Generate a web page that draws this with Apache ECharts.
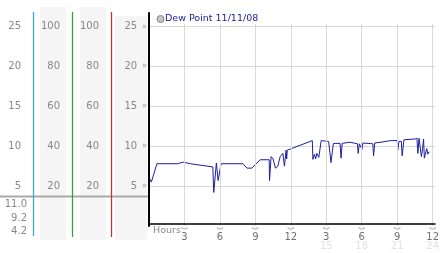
<!DOCTYPE html>
<html>
<head>
<meta charset="utf-8">
<script src="https://cdn.jsdelivr.net/npm/echarts@6/dist/echarts.min.js"></script>
<style>
html,body{margin:0;padding:0;background:#fff;}
#chart{width:442px;height:253px;}
</style>
</head>
<body>
<div id="chart"></div>
<script>
// ---- data ----
const seriesName = 'Dew Point 11/11/08';
const hours = [0, 0.2, 0.67, 2.4, 2.9, 3.5, 5.4, 5.48, 5.56, 5.7, 5.85, 6.1, 7.95, 8.3, 8.7, 9.4, 10.17, 10.2, 10.33, 10.5, 10.7, 10.9, 11.1, 11.33, 11.46, 11.6, 11.65, 11.7, 13.82, 13.87, 14.0, 14.1, 14.2, 14.37, 14.57, 15.2, 15.4, 15.6, 16.17, 16.25, 16.35, 17.0, 17.64, 17.7, 17.8, 18.02, 18.1, 18.94, 19.0, 19.1, 19.63, 20.46, 21.0, 21.05, 21.15, 21.35, 21.42, 21.57, 22.5, 22.67, 22.75, 22.85, 22.96, 23.05, 23.15, 23.23, 23.3, 23.5, 23.6, 23.7];
const dewPoint = [6.1, 5.5, 7.8, 7.8, 8.0, 7.8, 7.4, 4.2, 4.2, 7.9, 5.7, 7.8, 7.8, 7.25, 7.25, 8.3, 8.3, 5.7, 8.7, 8.4, 7.25, 7.5, 8.7, 9.1, 7.5, 9.5, 8.4, 9.5, 10.7, 8.35, 9.0, 8.4, 9.1, 8.6, 10.7, 10.6, 7.95, 10.35, 10.35, 8.5, 10.35, 10.5, 10.3, 9.1, 10.3, 9.6, 10.4, 10.3, 8.8, 10.4, 10.5, 10.7, 10.7, 9.5, 10.6, 10.6, 8.8, 10.8, 10.9, 11.0, 9.1, 11.0, 11.0, 8.7, 9.7, 10.9, 8.5, 9.7, 9.0, 9.3];
const statLabels = ['11.0', '9.2', '4.2'];
const hourTicks = [3, 6, 9, 12, 15, 18, 21, 24];
const xAxisTitle = 'Hours';

const chart = echarts.init(document.getElementById('chart'), null, {renderer: 'canvas'});
const labelColor = '#888';
const FONT = 'DejaVu Sans';

function leftAxis(offset, max, interval, withMark) {
  return {
    gridIndex: 0, type: 'value', position: 'left', offset: offset,
    min: 0, max: max, interval: interval, z: 5,
    axisLine: {show: withMark, onZero: false, lineStyle: {color: '#000', width: 2}},
    axisTick: {show: false},
    splitLine: {show: false},
    axisLabel: {
      margin: 2, showMinLabel: false, showMaxLabel: false,
      color: labelColor, fontFamily: FONT, fontSize: 10,
      formatter: withMark ? (v => '{v|' + v + '}{m|»}') : (v => '' + v),
      rich: {
        v: {color: labelColor, fontFamily: FONT, fontSize: 10},
        m: {color: '#999', fontFamily: FONT, fontSize: 8, padding: [0, 0, 0, 5]}
      }
    }
  };
}

const option = {
  animation: false,
  backgroundColor: '#fff',
  textStyle: {fontFamily: FONT},
  legend: {
    left: 151.5, top: 9, icon: 'circle', itemWidth: 7, itemHeight: 7,
    itemStyle: {color: '#c4c4c4', borderColor: '#888', borderWidth: 1},
    textStyle: {color: '#22229a', fontFamily: FONT, fontSize: 9.5, padding: [0, 0, 0, -4]},
    data: [seriesName]
  },
  grid: [
    {left: 149, top: 13, width: 292, height: 213, show: false},
    {left: 149, top: 24, width: 292, height: 202, show: false}
  ],
  xAxis: [
    {gridIndex: 0, type: 'value', min: 0, max: 24.2, show: false},
    {
      gridIndex: 1, type: 'value', min: 0, max: 24.2, interval: 3, offset: -2, z: 5,
      axisLine: {show: true, onZero: false, lineStyle: {color: '#000', width: 1.5}},
      axisTick: {show: false},
      splitLine: {show: true, showMinLine: false, showMaxLine: false, lineStyle: {color: '#d9d9d9', width: 1}},
      axisLabel: {
        margin: 3, showMinLabel: false, showMaxLabel: false,
        formatter: function (v) {
          if (hourTicks.indexOf(v) < 0) return '';
          const h = v > 12 ? v - 12 : v;
          let s = '{m|︾}\n{n|' + h + '}';
          if (v > 12) s += '\n{f|' + v + '}';
          return s;
        },
        rich: {
          m: {fontSize: 7, color: '#999', lineHeight: 6, fontFamily: 'Noto Sans CJK SC'},
          n: {fontSize: 10, color: '#707070', lineHeight: 8, fontFamily: FONT},
          f: {fontSize: 10, color: '#e2e2e2', lineHeight: 10, fontFamily: FONT}
        }
      }
    }
  ],
  yAxis: [
    leftAxis(0, 26.69, 5, true),
    leftAxis(48, 106.76, 20, false),
    leftAxis(87, 106.76, 20, false),
    leftAxis(126, 26.69, 5, false),
    {
      gridIndex: 1, type: 'value', min: 0, max: 25.31, interval: 5,
      axisLine: {show: false, onZero: false}, axisTick: {show: false}, axisLabel: {show: false},
      splitLine: {show: true, showMinLine: false, showMaxLine: false, lineStyle: {color: '#d9d9d9', width: 1}}
    }
  ],
  series: [{
    name: seriesName, type: 'line', xAxisIndex: 1, yAxisIndex: 4,
    showSymbol: false, symbol: 'none',
    itemStyle: {color: '#c4c4c4'},
    lineStyle: {color: '#1f1f9f', width: 1},
    data: hours.map((h, i) => [h, dewPoint[i]]),
    z: 3
  }],
  graphic: [
    {type: 'rect', z: -1, shape: {x: 40, y: 7, width: 26, height: 233}, style: {fill: '#f5f5f5'}},
    {type: 'rect', z: -1, shape: {x: 80, y: 7, width: 26, height: 233}, style: {fill: '#f5f5f5'}},
    {type: 'rect', z: -1, shape: {x: 115, y: 16, width: 32, height: 224}, style: {fill: '#f5f5f5'}},
    {type: 'line', z: 1, shape: {x1: 0, y1: 196.5, x2: 148, y2: 196.5}, style: {stroke: '#a9a9a9', lineWidth: 2}},
    {type: 'line', z: 2, shape: {x1: 33.5, y1: 12, x2: 33.5, y2: 236}, style: {stroke: '#3fa6c6', lineWidth: 1.3}},
    {type: 'line', z: 2, shape: {x1: 72.5, y1: 12, x2: 72.5, y2: 237}, style: {stroke: '#3a9e3a', lineWidth: 1.3}},
    {type: 'line', z: 2, shape: {x1: 111.5, y1: 12, x2: 111.5, y2: 237}, style: {stroke: '#b03a3a', lineWidth: 1.3}},
    {type: 'text', z: 3, left: 153, top: 226, style: {text: xAxisTitle, fill: '#888', font: '9.5px "DejaVu Sans"'}},
    {type: 'text', z: 3, x: 27, y: 204.5, style: {text: statLabels[0], fill: labelColor, font: '10px "DejaVu Sans"', align: 'right', verticalAlign: 'middle'}},
    {type: 'text', z: 3, x: 27, y: 218, style: {text: statLabels[1], fill: labelColor, font: '10px "DejaVu Sans"', align: 'right', verticalAlign: 'middle'}},
    {type: 'text', z: 3, x: 27, y: 231.5, style: {text: statLabels[2], fill: labelColor, font: '10px "DejaVu Sans"', align: 'right', verticalAlign: 'middle'}}
  ]
};
chart.setOption(option);
</script>
</body>
</html>
